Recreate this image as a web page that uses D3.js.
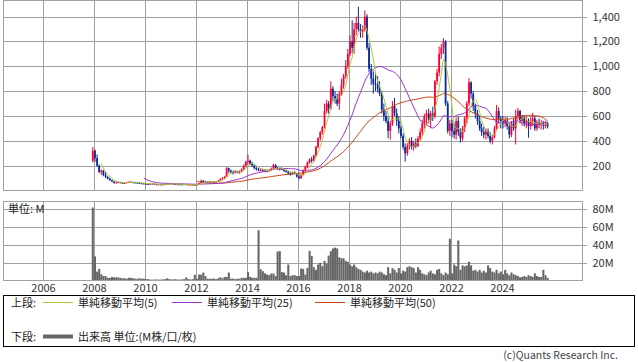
<!DOCTYPE html>
<html><head><meta charset="utf-8">
<script src="https://cdn.jsdelivr.net/npm/d3@7"></script>
<style>
html,body{margin:0;padding:0;background:#fff;}
svg{display:block;font-family:"Noto Sans CJK JP","Noto Sans",sans-serif;}
</style></head><body>
<svg id="chart" width="638" height="362"></svg>
<script>
// ---- data (monthly) ----
const months = [
"2007-12",
"2008-01","2008-02","2008-03","2008-04","2008-05","2008-06","2008-07","2008-08","2008-09","2008-10","2008-11","2008-12",
"2009-01","2009-02","2009-03","2009-04","2009-05","2009-06","2009-07","2009-08","2009-09","2009-10","2009-11","2009-12",
"2010-01","2010-02","2010-03","2010-04","2010-05","2010-06","2010-07","2010-08","2010-09","2010-10","2010-11","2010-12",
"2011-01","2011-02","2011-03","2011-04","2011-05","2011-06","2011-07","2011-08","2011-09","2011-10","2011-11","2011-12",
"2012-01","2012-02","2012-03","2012-04","2012-05","2012-06","2012-07","2012-08","2012-09","2012-10","2012-11","2012-12",
"2013-01","2013-02","2013-03","2013-04","2013-05","2013-06","2013-07","2013-08","2013-09","2013-10","2013-11","2013-12",
"2014-01","2014-02","2014-03","2014-04","2014-05","2014-06","2014-07","2014-08","2014-09","2014-10","2014-11","2014-12",
"2015-01","2015-02","2015-03","2015-04","2015-05","2015-06","2015-07","2015-08","2015-09","2015-10","2015-11","2015-12",
"2016-01","2016-02","2016-03","2016-04","2016-05","2016-06","2016-07","2016-08","2016-09","2016-10","2016-11","2016-12",
"2017-01","2017-02","2017-03","2017-04","2017-05","2017-06","2017-07","2017-08","2017-09","2017-10","2017-11","2017-12",
"2018-01","2018-02","2018-03","2018-04","2018-05","2018-06","2018-07","2018-08","2018-09","2018-10","2018-11","2018-12",
"2019-01","2019-02","2019-03","2019-04","2019-05","2019-06","2019-07","2019-08","2019-09","2019-10","2019-11","2019-12",
"2020-01","2020-02","2020-03","2020-04","2020-05","2020-06","2020-07","2020-08","2020-09","2020-10","2020-11","2020-12",
"2021-01","2021-02","2021-03","2021-04","2021-05","2021-06","2021-07","2021-08","2021-09","2021-10","2021-11","2021-12",
"2022-01","2022-02","2022-03","2022-04","2022-05","2022-06","2022-07","2022-08","2022-09","2022-10","2022-11","2022-12",
"2023-01","2023-02","2023-03","2023-04","2023-05","2023-06","2023-07","2023-08","2023-09","2023-10","2023-11","2023-12",
"2024-01","2024-02","2024-03","2024-04","2024-05","2024-06","2024-07","2024-08","2024-09","2024-10","2024-11","2024-12",
"2025-01","2025-02","2025-03","2025-04","2025-05","2025-06","2025-07","2025-08","2025-09","2025-10"
];
const openP = [
240,
320,260,200,150,160,125,110,95,82,72,62,65,
67,62,58,61,67,70,66,65,63,61,58,57,
55,53,51,54,55,50,49,50,47,48,51,56,
54,55,54,48,50,49,48,51,46,47,48,45,
46,48,60,78,70,66,72,68,70,66,70,80,
92,100,110,180,160,150,145,155,150,150,170,200,
230,240,215,200,180,170,165,168,160,158,160,165,
175,205,180,172,176,168,158,152,138,132,146,138,
112,100,125,160,190,225,250,240,280,350,420,470,
510,640,700,660,820,760,740,700,780,850,920,1000,
1100,1200,1150,1300,1350,1300,1280,1300,1400,1150,980,900,
860,850,820,780,650,600,560,480,540,680,620,560,
500,440,350,300,360,400,350,380,360,420,470,540,
600,620,570,620,600,880,950,1100,1150,1200,700,480,
540,480,450,560,470,420,500,580,700,870,780,680,
620,560,500,470,450,480,440,400,430,500,640,580,
560,540,570,520,450,540,500,600,640,560,590,540,
560,520,560,580,500,550,530,540,520,540
];
const highP = [
350,
330,290,210,170,165,150,115,104,88,76,70,72,
70,64,64,70,74,74,70,68,66,64,62,60,
58,56,56,58,56,53,52,51,50,52,60,58,
57,58,55,51,52,51,52,52,49,50,49,48,
50,62,88,85,76,74,78,74,74,72,82,98,
108,118,188,185,168,160,165,160,162,178,210,240,
288,248,232,210,190,182,180,176,172,170,172,185,
216,212,190,185,186,174,166,158,146,152,155,142,
145,130,170,200,235,260,272,290,360,430,480,520,
700,730,720,880,840,800,780,800,900,940,1050,1140,
1250,1370,1350,1400,1480,1340,1330,1450,1420,1190,1020,960,
950,920,880,800,700,640,600,560,720,745,660,600,
520,460,380,380,420,430,400,420,440,500,570,620,
650,660,640,675,890,980,1160,1180,1227,1210,720,570,
570,540,590,595,500,520,600,720,905,880,800,700,
650,600,540,513,500,500,470,450,520,690,670,600,
600,595,590,540,560,580,650,665,650,610,600,595,
580,590,625,600,570,580,570,560,560,550
];
const lowP = [
225,
230,190,140,125,115,100,90,78,68,55,56,60,
58,54,54,59,64,64,62,60,58,56,54,52,
50,49,50,51,48,47,47,45,45,46,50,52,
51,52,44,46,47,46,47,44,44,45,43,42,
44,47,58,66,62,62,66,64,64,64,68,76,
88,95,105,140,135,128,138,138,135,145,160,190,
210,205,190,170,160,155,152,150,148,144,150,158,
170,175,165,160,164,150,145,125,120,126,130,104,
88,92,120,150,180,215,224,230,270,340,400,450,
500,620,620,650,720,700,680,650,760,820,900,980,
1080,1105,1100,1250,1280,1230,1230,1280,1130,950,850,780,
800,790,760,620,560,540,420,410,520,600,520,460,
420,330,232,280,330,330,320,340,350,400,440,500,
520,540,500,560,580,850,920,1060,1100,680,460,440,
430,420,410,440,385,400,470,540,680,740,640,580,
530,480,440,420,410,420,380,370,420,490,540,500,
500,510,490,420,430,480,370,570,540,520,515,500,
425,490,520,480,480,500,490,490,500,500
];
const closeP = [
320,
260,200,150,160,125,110,95,82,72,62,65,67,
62,58,61,67,70,66,65,63,61,58,57,55,
53,51,54,55,50,49,50,47,48,51,56,54,
55,54,48,50,49,48,51,46,47,48,45,46,
48,60,78,70,66,72,68,70,66,70,80,92,
100,110,180,160,150,145,155,150,150,170,200,230,
240,215,200,180,170,165,168,160,158,160,165,175,
205,180,172,176,168,158,152,138,132,146,138,112,
100,125,160,190,225,250,240,280,350,420,470,510,
640,700,660,820,760,740,700,780,850,920,1000,1100,
1200,1150,1300,1350,1300,1280,1300,1400,1150,980,900,860,
850,820,780,650,600,560,480,540,680,620,560,500,
440,350,300,360,400,350,380,360,420,470,540,600,
620,570,620,600,880,950,1100,1150,1200,700,480,540,
480,450,560,470,420,500,580,700,870,780,680,620,
560,500,470,450,480,440,400,430,500,640,580,560,
540,570,520,450,540,500,600,640,560,590,540,560,
520,560,580,500,550,530,540,520,540,515
];
const volumeM = [
82,
27,10,13,7,5,5,3,3,4,3.5,3.5,3.5,
3,2.5,2.5,2,3,3,2.5,2,2,2.5,2,2,
1.5,1.5,1,1,1,1.2,1,1,1.2,1.5,2.5,1.5,
1.2,1.2,1.5,1,1,1.2,1.5,3.5,1.5,1.2,1.5,6.5,
2,6.7,6.7,8.9,5,2,2,2,2,1.5,2.5,3.6,
2.5,4,4,8.9,2,2,1.5,2,2,3,3,3,
9.4,4,3,3,3,56.6,12.7,10.5,8,6.7,6,7.8,
7.8,5,32.6,33,9.4,9,6,18,5,6,6,5,
5,13.5,13,6.7,14.2,33.3,27.7,15,12,18,20,16,
22,19,28,33,36,37,36,26,25,25,22,21,
18,16,18,15,13,12,10,9,11,9,10,8,
9,8,10,9,7,6,15,8,14,12,9,14,
8,11,10,15,16,15,14,9,15,12,8,7,
6,9,11,8,7,12,13,8,6,9,7,47,
8,18,16,45,12,17,16,17,21,17,11,12,
10,12,9,11,9,17,14,10,9,12,8,10,
7,12,8,6,9,7,6,5,3.5,4,5,4,
6,5,4,8,5,4,4,12,6,3
];
const yearTicks = ["2006","2008","2010","2012","2014","2016","2018","2020","2022","2024"];
const priceTicks = [200,400,600,800,1000,1200,1400];
const volTicks = [20,40,60,80];
const maPeriods = [5,25,50];
const maLabels = ["単純移動平均(5)","単純移動平均(25)","単純移動平均(50)"];
const maColors = ["#a8c83a","#9933cc","#cc4411"];

// ---- layout ----
const svg = d3.select("#chart");
const L = 3.5, R = 582.5, pT = 0.5, pB = 190.5, vT = 201.5, vB = 280.5;
const gridC = "#a0a0a0", txtC = "#333";
const parse = d3.timeParse("%Y-%m");
const mid = m => d3.timeDay.offset(parse(m), 14);

const x = d3.scaleTime().domain([new Date(2006,0,1), new Date(2024,0,1)]).range([43, 502]);
const yP = d3.scaleLinear().domain([0,1530]).range([pB, pT]);
const yV = d3.scaleLinear().domain([0,88.8]).range([vB, vT]);
const snap = v => Math.round(v) + 0.5;

svg.append("defs").append("clipPath").attr("id","cp")
  .append("rect").attr("x",L).attr("y",pT).attr("width",R-L).attr("height",pB-pT);

// panels background grid
function vgrid(top, bot){
  svg.append("g").selectAll("line").data(yearTicks).join("line")
    .attr("x1", d=>snap(x(new Date(+d,0,1)))).attr("x2", d=>snap(x(new Date(+d,0,1))))
    .attr("y1", top).attr("y2", bot).attr("stroke", gridC).attr("shape-rendering","crispEdges");
}
vgrid(pT, pB); vgrid(vT, vB);
svg.append("g").selectAll("line").data(priceTicks).join("line")
  .attr("x1", L).attr("x2", R).attr("y1", d=>snap(yP(d))).attr("y2", d=>snap(yP(d)))
  .attr("stroke", gridC).attr("shape-rendering","crispEdges");
svg.append("g").selectAll("line").data(volTicks).join("line")
  .attr("x1", L).attr("x2", R).attr("y1", d=>snap(yV(d))).attr("y2", d=>snap(yV(d)))
  .attr("stroke", gridC).attr("shape-rendering","crispEdges");

// axes (right)
function rightAxis(scale, ticks, fmt){
  const g = svg.append("g").attr("transform", `translate(${R},0)`)
    .call(d3.axisRight(scale).tickValues(ticks).tickSize(4).tickPadding(6).tickFormat(fmt));
  g.select(".domain").remove();
  g.selectAll(".tick").attr("transform", d=>`translate(0,${snap(scale(d))})`);
  g.selectAll(".tick line").attr("stroke", gridC).attr("shape-rendering","crispEdges");
  g.selectAll(".tick text").attr("fill", txtC).style("font-size","11px")
    .style("font-family",'"Noto Sans CJK JP","Noto Sans",sans-serif');
}
rightAxis(yP, priceTicks, d3.format(","));
rightAxis(yV, volTicks, d=>d+"M");

// bottom year axis
const xa = svg.append("g").attr("transform", `translate(0,${vB})`)
  .call(d3.axisBottom(x).tickValues(yearTicks.map(d=>new Date(+d,0,1))).tickSize(0).tickPadding(3.5)
    .tickFormat(d3.timeFormat("%Y")));
xa.select(".domain").remove();
xa.selectAll(".tick text").attr("fill", txtC).style("font-size","11px")
  .style("font-family",'"Noto Sans CJK JP","Noto Sans",sans-serif');

// candles
const rows = months.map((m,i)=>({d:mid(m), o:openP[i], h:highP[i], l:lowP[i], c:closeP[i], v:volumeM[i]}));
const upC = "#ff0033", dnC = "#0a2a96";
const cg = svg.append("g").attr("clip-path","url(#cp)");
cg.selectAll("line").data(rows).join("line")
  .attr("x1", d=>x(d.d)).attr("x2", d=>x(d.d)).attr("y1", d=>yP(d.h)).attr("y2", d=>yP(d.l))
  .attr("stroke", d=>d.c>=d.o?upC:dnC).attr("stroke-width",1);
cg.selectAll("rect").data(rows).join("rect")
  .attr("x", d=>x(d.d)-0.9).attr("width",1.8)
  .attr("y", d=>yP(Math.max(d.o,d.c))).attr("height", d=>Math.max(1, Math.abs(yP(d.o)-yP(d.c))))
  .attr("fill", d=>d.c>=d.o?upC:dnC);

// moving averages (simple, on monthly closes)
const sma = n => closeP.map((_,i)=> i<n-1 ? null : d3.mean(closeP.slice(i-n+1,i+1)));
const mg = svg.append("g").attr("clip-path","url(#cp)");
[2,1,0].forEach(k=>{
  const vals = sma(maPeriods[k]);
  const line = d3.line().defined(d=>d[1]!=null).x(d=>x(d[0])).y(d=>yP(d[1])).curve(d3.curveMonotoneX);
  mg.append("path").datum(rows.map((r,i)=>[r.d, vals[i]]))
    .attr("d", line).attr("fill","none").attr("stroke", maColors[k]).attr("stroke-width",1);
});

// volume bars
svg.append("g").selectAll("rect").data(rows).join("rect")
  .attr("x", d=>x(d.d)-1).attr("width",2.05)
  .attr("y", d=>yV(d.v)).attr("height", d=>vB-yV(d.v)).attr("fill","#666");

// panel borders
[[pT,pB],[vT,vB]].forEach(([t,b])=>{
  svg.append("rect").attr("x",L).attr("y",t).attr("width",R-L).attr("height",b-t)
    .attr("fill","none").attr("stroke",gridC).attr("shape-rendering","crispEdges");
});

svg.append("text").attr("x",8).attr("y",213).attr("fill","#222").style("font-size","11px").text("単位: M");

// legend
svg.append("rect").attr("x",3.5).attr("y",295.5).attr("width",631).attr("height",51)
  .attr("fill","none").attr("stroke","#000").attr("shape-rendering","crispEdges");
const lg = svg.append("g").style("font-size","11px").attr("fill","#222");
lg.append("text").attr("x",11).attr("y",306.5).text("上段:");
const lx = [43,172,315];
maLabels.forEach((t,k)=>{
  lg.append("line").attr("x1",lx[k]).attr("x2",lx[k]+30).attr("y1",302.5).attr("y2",302.5)
    .attr("stroke",maColors[k]).attr("stroke-width",1);
  lg.append("text").attr("x",lx[k]+35).attr("y",306.5).text(t);
});
lg.append("text").attr("x",11).attr("y",340.5).text("下段:");
lg.append("line").attr("x1",43).attr("x2",73).attr("y1",336.5).attr("y2",336.5).attr("stroke","#666").attr("stroke-width",4);
lg.append("text").attr("x",78).attr("y",340.5).text("出来高 単位:(M株/口/枚)");

svg.append("text").attr("x",618).attr("y",358.5).attr("text-anchor","end").attr("fill","#444")
  .style("font-size","10.5px").text("(c)Quants Research Inc.");
</script>
</body></html>
